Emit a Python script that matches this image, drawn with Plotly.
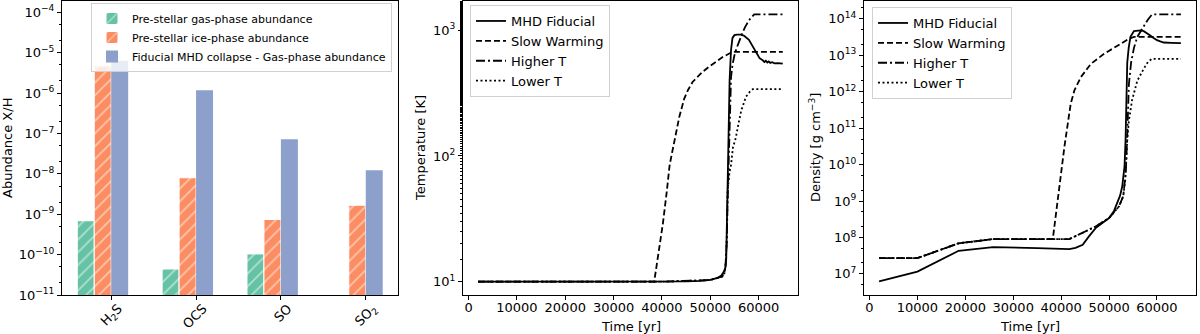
import plotly.graph_objects as go
from plotly.subplots import make_subplots

# ---- panel 1: abundances ----
species = ["H<sub>2</sub>S", "OCS", "SO", "SO<sub>2</sub>"]
prestellar_gas = [6.9e-10, 4.4e-11, 1.04e-10, None]
prestellar_ice = [4.7e-6, 8.0e-9, 7.4e-10, 1.67e-9]
mhd_gas = [6.3e-6, 1.17e-6, 7.2e-8, 1.23e-8]

# ---- panel 2: temperature [K] ----
t_fid_T = [2000, 10000, 20000, 30000, 40000, 45000, 48000, 50000, 51500, 52300, 52800, 53150,
           53300, 53450, 53600, 53750, 54000, 54300, 54600, 55000, 55500, 56300, 57000, 58000,
           59000, 59500, 60200, 60850, 61200, 61500, 61800, 62100, 62400, 62800, 63300, 64000, 65000]
T_fid = [10, 10, 10, 10, 10, 10.05, 10.15, 10.35, 10.7, 11.2, 12, 13,
         15, 30, 100, 200, 400, 700, 870, 915, 925, 925, 905, 840,
         720, 655, 600, 577, 560, 572, 555, 566, 550, 557, 546, 548, 542]

t_slow_T = [2000, 38400, 39300, 40200, 41000, 41600, 42200, 42900, 43600, 44600, 45400, 46340,
            47400, 48400, 49800, 51180, 52500, 53930, 54700, 65000]
T_slow = [10, 10, 17, 29, 52, 85, 111, 150, 205, 285, 335, 388,
          430, 467, 515, 560, 610, 653, 673, 673]

t_high_T = [2000, 20000, 40000, 50000, 52500, 53100, 53400, 53600, 53800, 54000, 54300, 54600,
            55000, 55500, 56000, 56600, 57200, 58000, 59100, 65000]
T_high = [10, 10, 10, 10.3, 11, 12.5, 20, 45, 100, 230, 425, 530,
          633, 730, 833, 940, 1060, 1200, 1340, 1340]

t_low_T = [2000, 20000, 40000, 50000, 52500, 52950, 53200, 53400, 53600, 54000, 54300, 54700,
           55300, 55700, 56400, 57400, 58200, 58800, 65000]
T_low = [10, 10, 10, 10.3, 11, 11.7, 14, 21, 54, 75, 85, 117,
         140, 170, 229, 296, 325, 340, 340]

# ---- panel 3: density ----
t_fid_n = [2000, 10000, 18600, 25800, 35000, 41700, 43000, 44500, 45800, 47200, 48600, 50000,
           51000, 51700, 52300, 52750, 53230, 53450, 53600, 53800, 54100, 54470, 55200, 55900,
           56600, 57250, 57900, 58600, 59300, 60000, 60700, 61400, 63000, 65000]
n_fid = [6.2e6, 1.15e7, 4.3e7, 5.4e7, 5.1e7, 4.8e7, 5.2e7, 6.3e7, 1.07e8, 1.8e8, 2.5e8, 3.4e8,
         5.2e8, 8.7e8, 1.4e9, 2.5e9, 8.9e9, 5e10, 3.2e11, 6.3e12, 1.6e13, 3.2e13, 4.6e13, 4.7e13,
         4.8e13, 4.6e13, 4.1e13, 3.5e13, 3.0e13, 2.6e13, 2.4e13, 2.24e13, 2.2e13, 2.15e13]

t_slow_n = [2000, 9960, 18600, 25800, 38260, 40700, 42000, 42750, 44100, 46200, 48970, 51700,
            54100, 55200, 65000]
n_slow = [2.7e7, 2.7e7, 6.9e7, 9e7, 9e7, 3.2e10, 4.7e11, 1.07e12, 2.5e12, 5.8e12, 1.1e13, 1.8e13,
          2.8e13, 3.2e13, 3.2e13]

t_high_n = [2000, 9960, 18600, 25800, 41700, 44100, 47200, 50000, 52070, 52960, 53500, 53800,
            54140, 54600, 55200, 55900, 56600, 57250, 58100, 58960, 65000]
n_high = [2.7e7, 2.7e7, 6.9e7, 9e7, 9e7, 1.3e8, 2.0e8, 3.4e8, 7.1e8, 1.35e9, 6.3e9, 6.3e10,
          1.6e12, 6.3e12, 1.6e13, 3.2e13, 4.6e13, 6.6e13, 9.5e13, 1.32e14, 1.32e14]

t_low_n = [2000, 9960, 18600, 25800, 41700, 44100, 47200, 50000, 52070, 52960, 53400, 53800,
           54140, 54800, 55900, 57250, 58100, 58960, 65000]
n_low = [2.7e7, 2.7e7, 6.9e7, 9e7, 9e7, 1.3e8, 2.0e8, 3.4e8, 7.1e8, 1.35e9, 4e9, 4.7e10,
         1.6e11, 5.8e11, 2.0e12, 4.3e12, 6.5e12, 8e12, 8e12]

abund_exp = [-11, -10, -9, -8, -7, -6, -5, -4]
temp_exp = [1, 2, 3]
dens_exp = [7, 8, 9, 10, 11, 12, 13, 14]
time_ticks = [0, 10000, 20000, 30000, 40000, 50000, 60000]


def pow_labels(exps):
    return ["10<sup>%s</sup>" % str(e).replace("-", "\u2212") for e in exps]


FONT = "DejaVu Sans"
W, H, B, T = 1200, 334, 39, 1
fig = make_subplots(rows=1, cols=3)

# bars
idx = list(range(len(species)))
fig.add_trace(go.Bar(x=idx, y=prestellar_gas, offset=-0.4, width=0.2,
                     name="Pre-stellar gas-phase abundance",
                     marker=dict(color="#66c2a5", line=dict(color="white", width=1),
                                 pattern=dict(shape="/", fgcolor="white", bgcolor="#66c2a5",
                                              size=9, solidity=0.18)),
                     legend="legend"), row=1, col=1)
fig.add_trace(go.Bar(x=idx, y=prestellar_ice, offset=-0.2, width=0.2,
                     name="Pre-stellar ice-phase abundance",
                     marker=dict(color="#fc8d62", line=dict(color="white", width=1),
                                 pattern=dict(shape="/", fgcolor="white", bgcolor="#fc8d62",
                                              size=9, solidity=0.18)),
                     legend="legend"), row=1, col=1)
fig.add_trace(go.Bar(x=idx, y=mhd_gas, offset=0.0, width=0.2,
                     name="Fiducial MHD collapse - Gas-phase abundance",
                     marker=dict(color="#8da0cb", line=dict(color="#8da0cb", width=0)),
                     legend="legend"), row=1, col=1)

# lines
styles = [("MHD Fiducial", "solid"), ("Slow Warming", "6px,3px"),
          ("Higher T", "9px,3px,2px,3px"), ("Lower T", "2px,2.5px")]
temp_series = [(t_fid_T, T_fid), (t_slow_T, T_slow), (t_high_T, T_high), (t_low_T, T_low)]
dens_series = [(t_fid_n, n_fid), (t_slow_n, n_slow), (t_high_n, n_high), (t_low_n, n_low)]

for (name, dash), (tx, ty) in zip(styles, temp_series):
    fig.add_trace(go.Scatter(x=tx, y=ty, mode="lines", name=name,
                             line=dict(color="black", width=1.8, dash=dash),
                             legend="legend2"), row=1, col=2)
for (name, dash), (tx, ty) in zip(styles, dens_series):
    fig.add_trace(go.Scatter(x=tx, y=ty, mode="lines", name=name,
                             line=dict(color="black", width=1.8, dash=dash),
                             legend="legend3"), row=1, col=3)

axis_style = dict(showline=True, linecolor="black", linewidth=1, mirror=True,
                  ticks="outside", ticklen=4, tickcolor="black", showgrid=False,
                  zeroline=False, automargin=False,
                  tickfont=dict(family=FONT, size=13, color="black"))
minor_log = dict(ticks="outside", ticklen=2, tickcolor="black", showgrid=False)

fig.update_xaxes(**axis_style)
fig.update_yaxes(**axis_style)

fig.update_xaxes(domain=[62 / W, 398 / W], range=[-0.58, 3.38],
                 tickvals=idx, ticktext=species, tickangle=-45, ticklabelshift=7,
                 ticklabelstandoff=-4, row=1, col=1)
fig.update_yaxes(type="log", range=[-11, -3.72], tickvals=[10.0 ** e for e in abund_exp],
                 ticktext=pow_labels(abund_exp), minor=minor_log, row=1, col=1)

fig.update_xaxes(domain=[463 / W, 798 / W], range=[-1150, 68150],
                 tickvals=time_ticks, tickformat="d", ticklabelstandoff=-4, row=1, col=2)
fig.update_yaxes(type="log", range=[0.894, 3.233], tickvals=[10.0 ** e for e in temp_exp],
                 ticktext=pow_labels(temp_exp), minor=minor_log, row=1, col=2)

fig.update_xaxes(domain=[864 / W, 1196 / W], range=[-1150, 68150],
                 tickvals=time_ticks, tickformat="d", ticklabelstandoff=-4, row=1, col=3)
fig.update_yaxes(type="log", range=[6.42, 14.49], tickvals=[10.0 ** e for e in dens_exp],
                 ticktext=pow_labels(dens_exp), minor=minor_log, row=1, col=3)


# axis titles placed at pixel positions of the original figure
def py(px):
    return (H - B - px) / (H - B - T)


title_font = dict(family=FONT, size=13, color="black")
titles = [
    ("Abundance X/H", 7, 148, -90),
    ("Temperature [K]", 420, 148, -90),
    ("Density [g cm<sup>\u22123</sup>]", 815, 148, -90),
    ("Time [yr]", 631, 326, 0),
    ("Time [yr]", 1030, 326, 0),
]
for text, x_px, y_px, ang in titles:
    fig.add_annotation(text=text, x=x_px / W, y=py(y_px), xref="paper", yref="paper",
                       showarrow=False, textangle=ang, font=title_font,
                       xanchor="center", yanchor="middle")

legend_style = dict(bgcolor="rgba(255,255,255,0.8)", bordercolor="#d0d0d0", borderwidth=1,
                    yanchor="top", tracegroupgap=0, itemwidth=30)
fig.update_layout(
    width=W, height=H,
    margin=dict(l=0, r=0, t=T, b=B),
    plot_bgcolor="white", paper_bgcolor="white",
    barmode="overlay",
    font=dict(family=FONT, color="black"),
    legend=dict(x=392 / W, xanchor="right", y=py(3),
                font=dict(family=FONT, size=11, color="black"), **legend_style),
    legend2=dict(x=470 / W, xanchor="left", y=py(5),
                 font=dict(family=FONT, size=13, color="black"), **legend_style),
    legend3=dict(x=872 / W, xanchor="left", y=py(7),
                 font=dict(family=FONT, size=13, color="black"), **legend_style),
)

# drop the default 8px page margin so the figure sits at the window origin
fig.write_html("out.html", config={"displayModeBar": False},
               post_script="document.body.style.margin='0';")
